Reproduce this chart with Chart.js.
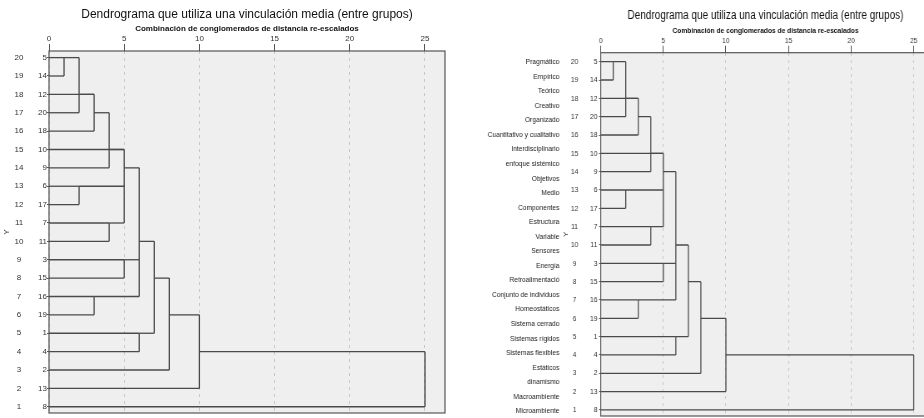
<!DOCTYPE html>
<html>
<head>
<meta charset="utf-8">
<script src="https://cdn.jsdelivr.net/npm/chart.js@4/dist/chart.umd.min.js"></script>
<style>
  body { margin: 0; background: #fff; width: 924px; height: 418px; overflow: hidden; position: relative; }
  #left { position: absolute; left: 0; top: 0; }
  /* right copy of the chart is squeezed sideways like in the original document */
  #right { position: absolute; left: 462px; top: 0; transform: scaleX(0.8325); transform-origin: 0 0; }
</style>
</head>
<body>
<canvas id="left" width="462" height="418"></canvas>
<canvas id="right" width="580" height="418"></canvas>
<script>
// rows of the dendrogram, top to bottom
let rows = [20, 19, 18, 17, 16, 15, 14, 13, 12, 11, 10, 9, 8, 7, 6, 5, 4, 3, 2, 1];
let leafLabels = ['5', '14', '12', '20', '18', '10', '9', '6', '17', '7', '11', '3', '15', '16', '19', '1', '4', '2', '13', '8'];
// distance where each leaf line stops
let leafEnds = [1, 1, 3, 2, 3, 5, 4, 2, 2, 4, 4, 5, 5, 3, 3, 6, 6, 8, 10, 25];

// merges: distance, rows joined, row the new cluster leaves on and where that line ends
let mergeDist   = [1, 2, 3, 4, 2, 4, 5, 5, 3, 6, 6, 7, 8, 10, 25];
let mergeTop    = [20, 20, 18, 17, 13, 11, 15, 9, 7, 14, 5, 10, 8, 6, 4];
let mergeBottom = [19, 17, 16, 14, 12, 10, 11, 8, 6, 7, 4, 5, 3, 2, 1];
let mergeOutRow = [20, 18, 17, 15, 13, 11, 14, 9, 7, 10, 5, 8, 6, 4, null];
let mergeOutEnd = [2, 3, 4, 5, 5, 5, 6, 6, 6, 7, 7, 8, 10, 25, null];

let xTicks = [0, 5, 10, 15, 20, 25];

// variable names written next to the right copy
let names = ['Pragmático', 'Empírico', 'Teórico', 'Creativo', 'Organizado', 'Cuantitativo y cualitativo',
  'Interdisciplinario', 'enfoque sistémico', 'Objetivos', 'Medio', 'Componentes', 'Estructura', 'Variable',
  'Sensores', 'Energía', 'Retroalimentació', 'Conjunto de individuos', 'Homeostáticos', 'Sistema cerrado',
  'Sistemas rígidos', 'Sistemas flexibles', 'Estáticos', 'dinamismo', 'Macroambiente', 'Microambiente'];

let titleText = 'Dendrograma que utiliza una vinculación media (entre grupos)';
let subtitleText = 'Combinación de conglomerados de distancia re-escalados';

const FONT = 'Liberation Sans, Arial, sans-serif';
const LINE = '#4a4a4a';

function segment(x1, y1, x2, y2) {
  return {
    data: [{x: x1, y: y1}, {x: x2, y: y2}],
    borderColor: LINE, borderWidth: 1.3,
    pointRadius: 0, fill: false, tension: 0,
    xAxisID: 'x', yAxisID: 'yLeaf'
  };
}

function buildSegments() {
  // one small dataset per line of the tree
  let sets = [];
  for (let i = 0; i < rows.length; i++) {
    sets.push(segment(0, rows[i], leafEnds[i], rows[i]));
  }
  for (let i = 0; i < mergeDist.length; i++) {
    sets.push(segment(mergeDist[i], mergeTop[i], mergeDist[i], mergeBottom[i]));
    if (mergeOutRow[i] !== null) {
      sets.push(segment(mergeDist[i], mergeOutRow[i], mergeOutEnd[i], mergeOutRow[i]));
    }
  }
  return sets;
}

// fixed axis size, and no extra edge padding from the labels
function fixSize(a, w, h) {
  if (w !== null) a.width = w;
  if (h !== null) a.height = h;
  a.paddingTop = 0;
  a.paddingBottom = 0;
  a.paddingLeft = 0;
  a.paddingRight = 0;
}

// grey plot area with a frame
let plotBox = {
  id: 'plotBox',
  beforeDraw(chart) {
    let a = chart.chartArea;
    let ctx = chart.ctx;
    ctx.save();
    ctx.fillStyle = '#efefef';
    ctx.fillRect(a.left, a.top, a.right - a.left, a.bottom - a.top);
    ctx.restore();
  },
  afterDraw(chart) {
    let a = chart.chartArea;
    let ctx = chart.ctx;
    ctx.save();
    ctx.strokeStyle = '#555';
    ctx.lineWidth = 1.2;
    ctx.strokeRect(a.left, a.top, a.right - a.left, a.bottom - a.top);
    ctx.restore();
  }
};

function makeChart(id, s) {
  let scales = {
    x: {
      type: 'linear', position: 'top', min: 0, max: 26.33,
      afterBuildTicks: a => { a.ticks = xTicks.map(v => ({value: v})); },
      afterFit: a => fixSize(a, null, s.xHeight),
      ticks: { font: {family: FONT, size: 8}, color: '#333', padding: 0, maxRotation: 0, autoSkip: false },
      grid: { color: '#c8c8c8', lineWidth: 1, drawTicks: true, tickLength: 7, tickColor: '#555', tickBorderDash: [] },
      border: { display: false, dash: [3, 4] }
    },
    yLeaf: {
      type: 'linear', position: 'left', weight: 0, min: s.yMin, max: s.yMax,
      afterBuildTicks: a => { a.ticks = rows.map(v => ({value: v})); },
      afterFit: a => fixSize(a, s.leafWidth, null),
      ticks: {
        callback: v => leafLabels[rows.indexOf(v)],
        font: {family: FONT, size: 8}, color: '#333', padding: s.leafPad, autoSkip: false
      },
      grid: { drawOnChartArea: false, drawTicks: true, tickLength: 2, tickColor: '#555' },
      border: { display: false }
    },
    yRow: {
      type: 'linear', position: 'left', weight: 1, min: s.yMin, max: s.yMax,
      afterBuildTicks: a => { a.ticks = rows.map(v => ({value: v})); },
      afterFit: a => fixSize(a, s.rowWidth, null),
      ticks: {
        callback: v => String(v), crossAlign: 'center',
        font: {family: FONT, size: 8}, color: '#333', padding: s.rowPad, autoSkip: false
      },
      grid: { display: false, drawTicks: false },
      border: { display: false },
      title: { display: true, text: 'Y', font: {family: FONT, size: 8}, color: '#333', padding: {top: s.yTitlePad, bottom: 0} }
    }
  };
  if (s.names) {
    scales.yNames = {
      type: 'linear', position: 'left', weight: 2, reverse: true, min: -0.64, max: 24.34,
      afterBuildTicks: a => { a.ticks = names.map((n, i) => ({value: i})); },
      afterFit: a => fixSize(a, 120, null),
      ticks: {
        callback: v => names[v],
        font: {family: FONT, size: 8}, color: '#222', padding: 3, autoSkip: false
      },
      grid: { display: false, drawTicks: false },
      border: { display: false }
    };
  }

  return new Chart(document.getElementById(id), {
    type: 'line',
    data: { datasets: buildSegments() },
    options: {
      responsive: false,
      animation: false,
      devicePixelRatio: 1,
      events: [],
      layout: { autoPadding: false, padding: {left: 0, right: s.padRight, top: 0, bottom: s.padBottom} },
      plugins: {
        legend: { display: false },
        tooltip: { enabled: false },
        title: { display: true, fullSize: false, text: titleText, color: '#111', font: {family: FONT, size: 12, weight: 'normal'}, padding: {top: s.titlePad, bottom: 0} },
        subtitle: { display: true, fullSize: false, text: subtitleText, color: '#111', font: {family: FONT, size: 8, weight: 'bold'}, padding: {top: s.subPad, bottom: 0} }
      },
      scales: scales
    },
    plugins: [plotBox]
  });
}

makeChart('left', {
  yMin: 0.66, yMax: 20.36, xHeight: 17,
  leafWidth: 14, leafPad: 0, rowWidth: 35, rowPad: 11.5, yTitlePad: 2,
  padRight: 17, padBottom: 5, titlePad: 7, subPad: 3, names: false
});

makeChart('right', {
  yMin: 0.67, yMax: 20.49, xHeight: 16.7,
  leafWidth: 14, leafPad: 2, rowWidth: 32.6, rowPad: 13, yTitlePad: 0,
  padRight: 17.4, padBottom: 2, titlePad: 8, subPad: 4, names: true
});
</script>
</body>
</html>
